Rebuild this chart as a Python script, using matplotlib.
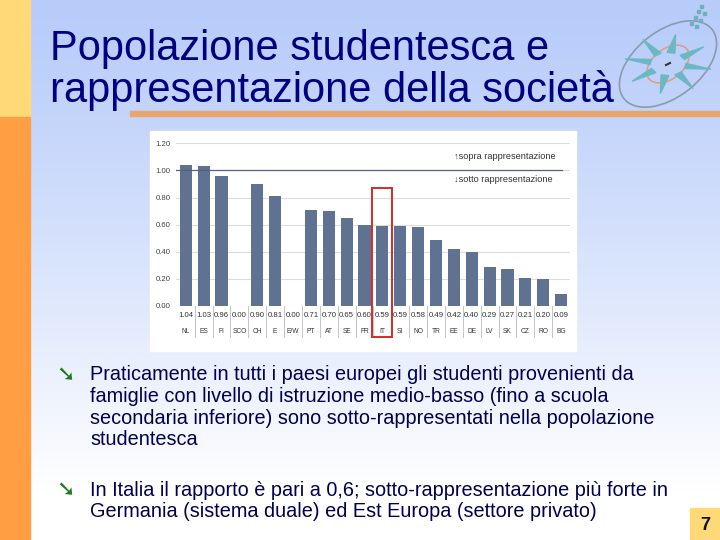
import numpy as np
import matplotlib.pyplot as plt
from matplotlib.patches import Rectangle, Ellipse, Polygon
import matplotlib.transforms as mtransforms

plt.rcParams['font.family'] = ['Liberation Sans', 'DejaVu Sans']

# chart data
countries = ['NL', 'ES', 'FI', 'SCO', 'CH', 'E', 'E/W', 'PT', 'AT', 'SE', 'FR',
             'IT', 'SI', 'NO', 'TR', 'EE', 'DE', 'LV', 'SK', 'CZ', 'RO', 'BG']
ratios = [1.04, 1.03, 0.96, 0.00, 0.90, 0.81, 0.00, 0.71, 0.70, 0.65, 0.60,
          0.59, 0.59, 0.58, 0.49, 0.42, 0.40, 0.29, 0.27, 0.21, 0.20, 0.09]
yticks = [0.0, 0.2, 0.4, 0.6, 0.8, 1.0, 1.2]

title_lines = ['Popolazione studentesca e', 'rappresentazione della società']
bullet1 = ['Praticamente in tutti i paesi europei gli studenti provenienti da',
           'famiglie con livello di istruzione medio-basso (fino a scuola',
           'secondaria inferiore) sono sotto-rappresentati nella popolazione',
           'studentesca']
bullet2 = ['In Italia il rapporto è pari a 0,6; sotto-rappresentazione più forte in',
           'Germania (sistema duale) ed Est Europa (settore privato)']

W, H = 720, 540
fig = plt.figure(figsize=(7.2, 5.4), dpi=100)

# slide background, pixel coordinates
bg = fig.add_axes([0, 0, 1, 1])
bg.set_xlim(0, W)
bg.set_ylim(H, 0)
bg.axis('off')
grad = np.linspace(0, 1, 256).reshape(-1, 1)
grad = np.clip(grad * 1.1, 0, 1) ** 1.2
top = np.array([0.72, 0.80, 0.98])
bot = np.array([1.0, 1.0, 1.0])
img = top[None, None, :] * (1 - grad[:, :, None]) + bot[None, None, :] * grad[:, :, None]
bg.imshow(img, extent=[0, W, H, 0], aspect='auto', zorder=0)

bg.add_patch(Rectangle((0, 0), 30, 117, color='#FFD877', zorder=1))
bg.add_patch(Rectangle((0, 117), 30, 423, color='#FF9E42', zorder=1))
bg.add_patch(Rectangle((130, 111), 590, 5, color='#E8A56E', zorder=1))
bg.add_patch(Rectangle((690, 508), 30, 32, color='#FFD877', zorder=1))
bg.text(705, 526, '7', fontsize=13, fontweight='bold', ha='center', va='center',
        color='#111111', zorder=2)

# title
for i, line in enumerate(title_lines):
    bg.text(50, 60 + i * 42, line, fontsize=30, color='#000080',
            ha='left', va='baseline', zorder=2)

# compass logo (simplified)
cx, cy = 668, 64
bg.add_patch(Ellipse((cx, cy), 112, 66, angle=-38, fill=False,
                     ec='#8A9AB0', lw=1.2, zorder=2))
bg.add_patch(Ellipse((cx, cy), 48, 30, angle=-38, fill=False,
                     ec='#D9A08A', lw=1.2, zorder=2))
for k in range(8):
    a = np.deg2rad(k * 45 + 10)
    r1, r2 = 18, 46
    ca, sa = np.cos(a), np.sin(a)
    tip = (cx + r2 * ca * 0.95, cy + r2 * sa * 0.65)
    b1 = (cx + r1 * np.cos(a + 0.22), cy + r1 * np.sin(a + 0.22) * 0.65)
    b2 = (cx + r1 * np.cos(a - 0.22), cy + r1 * np.sin(a - 0.22) * 0.65)
    bg.add_patch(Polygon([tip, b1, b2], closed=True, color='#6CB8C2', zorder=2))
bg.plot([cx - 2, cx + 2], [cy + 1, cy - 1], color='#333333', lw=1.5, zorder=3)
for px, py in [(700, 5), (697, 10), (703, 12), (694, 16), (699, 19), (690, 22), (695, 25)]:
    bg.add_patch(Rectangle((px, py), 3, 3, color='#6FAFC0', zorder=2))

# chart frame
bg.add_patch(Rectangle((150, 131), 426, 220, color='white', zorder=1))

# bullets
for lines, y0 in [(bullet1, 375), (bullet2, 490)]:
    bg.text(66, y0, '➘', fontsize=16, fontweight='bold', color='#1E7A1E',
            ha='center', va='center', family=['DejaVu Sans'], zorder=2)
    for j, line in enumerate(lines):
        bg.text(90, y0 + j * 21.5, line, fontsize=14.3, color='#000050',
                ha='left', va='center', zorder=2)

# bar chart
left, right, y0px, y1px = 176, 570, 306, 143.3
ax = fig.add_axes([left / W, 1 - y0px / H, (right - left) / W, (y0px - y1px) / H])
ax.set_facecolor('none')
x = np.arange(len(countries))
ax.bar(x, ratios, width=0.68, color='#607291', zorder=2)
ax.set_xlim(-0.55, 21.5)
ax.set_ylim(0, 1.2)
ax.set_yticks(yticks)
ax.set_yticklabels([f'{v:.2f}' for v in yticks], fontsize=5.6, color='#444444')
ax.tick_params(axis='y', length=0, pad=4)
ax.set_xticks([])
ax.grid(axis='y', color='#DDDDDD', lw=0.8, zorder=0)
for s in ax.spines.values():
    s.set_visible(False)
ax.axhline(1.0, xmin=0, xmax=0.98, color='#5A6075', lw=0.9, zorder=3)

trans = mtransforms.blended_transform_factory(ax.transData, ax.transAxes)
for i, (c, v) in enumerate(zip(countries, ratios)):
    ax.text(i, -0.058, f'{v:.2f}', transform=trans, fontsize=5.6, color='#333333',
            ha='center', va='center')
    ax.text(i, -0.155, c, transform=trans, fontsize=4.8, color='#333333',
            ha='center', va='center')
    if i < len(countries) - 1:
        ax.plot([i + 0.5, i + 0.5], [0, -0.19], transform=trans, color='#BBBBBB',
                lw=0.6, clip_on=False)

ax.text(15.0, 1.10, '↑sopra rappresentazione', fontsize=6.6, color='#333333',
        ha='left', va='center')
ax.text(15.0, 0.93, '↓sotto rappresentazione', fontsize=6.6, color='#333333',
        ha='left', va='center')

ax.add_patch(Rectangle((10.43, -0.19), 1.12, 0.87 / 1.2 + 0.19, transform=trans,
                       fill=False, ec='#D42A2A', lw=1.4, clip_on=False, zorder=4))

fig.savefig('out.png', dpi=100)
